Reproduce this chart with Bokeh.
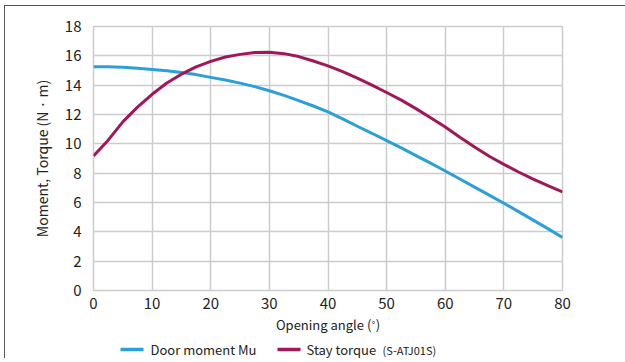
from bokeh.plotting import figure
from bokeh.layouts import column
from bokeh.models import Range1d, FixedTicker
from bokeh.core.properties import value
from bokeh.embed import file_html
from bokeh.resources import INLINE

angle = [0, 2.5, 5, 7.5, 10, 12.5, 15, 17.5, 20, 22.5, 25, 27.5, 30, 32.5, 35, 37.5,
         40, 42.5, 45, 47.5, 50, 52.5, 55, 57.5, 60, 62.5, 65, 67.5, 70, 72.5, 75, 77.5, 80]
door_moment = [15.26, 15.25, 15.22, 15.15, 15.07, 14.98, 14.86, 14.72, 14.53, 14.35, 14.14,
               13.9, 13.62, 13.3, 12.94, 12.58, 12.18, 11.7, 11.2, 10.72, 10.22, 9.72, 9.2,
               8.68, 8.15, 7.6, 7.05, 6.5, 5.95, 5.38, 4.8, 4.22, 3.62]
stay_torque = [9.18, 10.25, 11.5, 12.5, 13.38, 14.15, 14.75, 15.25, 15.62, 15.92, 16.1,
               16.22, 16.24, 16.15, 15.95, 15.65, 15.32, 14.92, 14.48, 14.0, 13.5, 12.98,
               12.4, 11.78, 11.15, 10.45, 9.78, 9.15, 8.6, 8.08, 7.6, 7.15, 6.72]
x_ticks = [0, 10, 20, 30, 40, 50, 60, 70, 80]
y_ticks = [0, 2, 4, 6, 8, 10, 12, 14, 16, 18]
legend_labels = ["Door moment Mu", "Stay torque"]
legend_note = "(S-ATJ01S)"

FONT = "Noto Sans CJK JP"
BLUE = "#2a9fda"
RED = "#a0185a"
GRID = "#cccccc"
TXT = "#222222"

FW, BL, BR = 469, 88, 63

p = figure(frame_width=FW, frame_height=264,
           min_border_left=BL, min_border_right=BR, min_border_top=20, min_border_bottom=44,
           x_range=Range1d(0, 80), y_range=Range1d(0, 18),
           output_backend="svg", toolbar_location=None)

p.xaxis.ticker = FixedTicker(ticks=x_ticks)
p.yaxis.ticker = FixedTicker(ticks=y_ticks)
for ax in (p.xaxis[0], p.yaxis[0]):
    ax.axis_line_color = None
    ax.major_tick_line_color = None
    ax.minor_tick_line_color = None
    ax.major_label_text_font = FONT
    ax.major_label_text_font_size = "15px"
    ax.major_label_text_color = TXT
    ax.axis_label_text_font = FONT
    ax.axis_label_text_font_style = "normal"
    ax.axis_label_text_color = TXT

p.xaxis.axis_label = "Opening angle (˚)"
p.xaxis.axis_label_text_font_size = "13px"
p.xaxis.major_label_standoff = 1
p.xaxis.axis_label_standoff = 3
p.yaxis.axis_label = "Moment, Torque (N · m)"
p.yaxis.axis_label_text_font_size = "14px"
p.yaxis.major_label_standoff = 6
p.yaxis.axis_label_standoff = 10

p.xgrid.grid_line_color = GRID
p.ygrid.grid_line_color = GRID
p.xgrid.grid_line_width = 1.5
p.ygrid.grid_line_width = 1.5
p.outline_line_color = GRID
p.outline_line_width = 1.5

p.line(angle, door_moment, line_color=BLUE, line_width=3)
p.line(angle, stay_torque, line_color=RED, line_width=3)

# legend strip below the chart; x in pixels from the chart frame's left edge
lg = figure(frame_width=FW, frame_height=22,
            min_border_left=BL, min_border_right=BR, min_border_top=0, min_border_bottom=0,
            x_range=Range1d(0, FW), y_range=Range1d(0, 22),
            x_axis_location=None, y_axis_location=None,
            output_backend="svg", toolbar_location=None)
lg.grid.visible = False
lg.outline_line_color = None
lg.segment(x0=[27, 184], y0=[9, 9], x1=[50, 207], y1=[9, 9],
           line_color=[BLUE, RED], line_width=3.5)
lg.text(x=[57, 213], y=[9, 9], text=legend_labels, text_font=value(FONT),
        text_font_size="13px", text_baseline="middle", text_color=TXT)
lg.text(x=[289], y=[9], text=[legend_note], text_font=value(FONT),
        text_font_size="11px", text_baseline="middle", text_color=TXT)

layout = column(p, lg, spacing=0,
                styles={"margin-top": "5px", "margin-left": "4px",
                        "border-top": "1px solid #555555",
                        "border-left": "1px solid #555555"})

open("out.html", "w").write(file_html(layout, INLINE))
